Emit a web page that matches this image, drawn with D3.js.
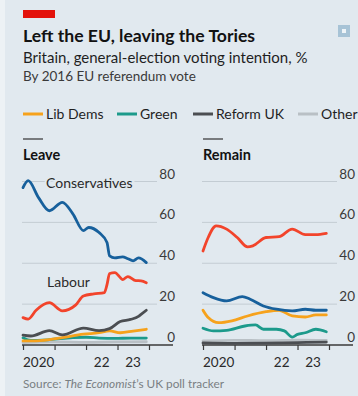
<!DOCTYPE html>
<html>
<head>
<meta charset="utf-8">
<script src="https://cdn.jsdelivr.net/npm/d3@7"></script>
<style>
  html, body { margin: 0; padding: 0; background: #e1e9ef; }
  svg { display: block; font-family: Lato, "Noto Sans", sans-serif; }
</style>
</head>
<body>
<div id="root"></div>
<script>
// values, [month, %]
const leaveConservatives = [["2020-01", 77], ["2020-03", 80.4], ["2020-07", 72], ["2020-11", 65.7], ["2021-04", 69.8], ["2021-08", 64.2], ["2021-12", 56], ["2022-02", 57.5], ["2022-06", 55], ["2022-09", 50.1], ["2022-10", 43.6], ["2022-12", 42.6], ["2023-03", 43.1], ["2023-05", 42.2], ["2023-07", 41.2], ["2023-09", 42.6], ["2023-12", 40.3]];
const leaveLabour = [["2020-01", 13.4], ["2020-03", 12.7], ["2020-06", 17], ["2020-11", 20.7], ["2021-04", 16.7], ["2021-09", 19.5], ["2021-12", 24], ["2022-04", 25], ["2022-08", 25.6], ["2022-09", 29.5], ["2022-10", 35], ["2022-12", 35.4], ["2023-02", 33], ["2023-03", 32], ["2023-05", 33.5], ["2023-08", 31.5], ["2023-10", 31.4], ["2023-12", 30.5]];
const leaveLibDems = [["2020-01", 2], ["2020-06", 2], ["2021-04", 3.6], ["2021-12", 5.3], ["2022-06", 6], ["2022-10", 6.9], ["2023-02", 6], ["2023-07", 6.8], ["2023-12", 7.7]];
const leaveGreen = [["2020-01", 3.5], ["2020-04", 2.2], ["2020-11", 2.6], ["2021-08", 3.6], ["2022-01", 3.8], ["2022-06", 3.4], ["2022-12", 3.2], ["2023-06", 3.4], ["2023-12", 3.4]];
const leaveReform = [["2020-01", 4.8], ["2020-04", 4.4], ["2020-11", 7], ["2021-04", 5], ["2021-12", 8.3], ["2022-06", 7], ["2022-10", 8], ["2023-02", 11.5], ["2023-06", 12.5], ["2023-09", 14], ["2023-10", 15], ["2023-12", 17]];
const leaveOther = [["2020-01", 1.2], ["2021-01", 1.5], ["2022-01", 1.3], ["2023-01", 1.5], ["2023-12", 1.6]];

const remainConservatives = [["2020-01", 25.6], ["2020-05", 23.2], ["2020-10", 21.6], ["2021-04", 23.7], ["2021-07", 22.4], ["2021-12", 19.1], ["2022-05", 17.5], ["2022-11", 16.7], ["2023-04", 17.5], ["2023-08", 17], ["2023-12", 17]];
const remainLabour = [["2020-01", 46], ["2020-03", 52.6], ["2020-06", 58.3], ["2020-10", 56.7], ["2021-02", 52.6], ["2021-06", 48], ["2021-08", 48.5], ["2022-01", 52.6], ["2022-06", 53], ["2022-11", 56.7], ["2023-04", 54], ["2023-08", 54], ["2023-12", 54.6]];
const remainLibDems = [["2020-01", 17], ["2020-03", 13.4], ["2020-07", 10.9], ["2020-12", 11.8], ["2021-06", 14.2], ["2022-01", 16.3], ["2022-06", 17], ["2022-11", 14.2], ["2023-04", 13.7], ["2023-08", 14.7], ["2023-12", 14.7]];
const remainGreen = [["2020-01", 8.2], ["2020-05", 6.9], ["2020-10", 7.2], ["2021-05", 9.3], ["2021-09", 9.8], ["2021-12", 7.7], ["2022-05", 7.7], ["2022-08", 6.9], ["2022-11", 3.9], ["2023-01", 5.2], ["2023-04", 6], ["2023-08", 7.7], ["2023-12", 6.5]];
const remainReform = [["2020-01", 1], ["2021-01", 0.8], ["2022-01", 0.9], ["2023-01", 1.2], ["2023-12", 1.4]];
const remainOther = [["2020-01", 2], ["2021-01", 2.3], ["2022-01", 2.1], ["2023-01", 2.4], ["2023-12", 2.2]];

const legendNames = ["Lib Dems", "Green", "Reform UK", "Other"];
const yTicks = [0, 20, 40, 60, 80];
const yearLabels = [["2020", "2020-07"], ["22", "2022-07"], ["23", "2023-07"]];

const colors = {
  con: "#17609c",
  lab: "#f2442b",
  ld: "#f6a21c",
  green: "#1c9a8b",
  reform: "#4b4e52",
  other: "#b9c0c5",
};
const legendColors = [colors.ld, colors.green, colors.reform, colors.other];

const width = 358;
const height = 396;
const bg = "#e1e9ef";
const parse = d3.timeParse("%Y-%m");

const svg = d3.select("#root")
  .append("svg")
  .attr("width", width)
  .attr("height", height)
  .attr("viewBox", `0 0 ${width} ${height}`);

svg.append("rect").attr("width", width).attr("height", height).attr("fill", bg);
svg.append("rect").attr("width", 5).attr("height", height).attr("fill", "#edf2f5");

// header
svg.append("rect").attr("x", 23).attr("y", 10).attr("width", 32).attr("height", 8).attr("fill", "#e3120b");
svg.append("rect").attr("x", 338).attr("y", 25).attr("width", 12).attr("height", 12).attr("fill", "#a7c3d6");
svg.append("rect").attr("x", 342).attr("y", 29).attr("width", 4).attr("height", 4).attr("fill", "#eef4f8");

svg.append("text").attr("x", 23).attr("y", 42)
  .attr("font-size", 17.6).attr("font-weight", 700).attr("fill", "#121212")
  .text("Left the EU, leaving the Tories");
svg.append("text").attr("x", 23).attr("y", 63)
  .attr("font-size", 15).attr("fill", "#1f1f1f")
  .text("Britain, general-election voting intention, %");
svg.append("text").attr("x", 23).attr("y", 81)
  .attr("font-size", 13.5).attr("fill", "#3a3a3a")
  .text("By 2016 EU referendum vote");

// legend
const legendX = [23, 117, 193, 298];
const legend = svg.append("g").selectAll("g")
  .data(legendNames)
  .join("g")
  .attr("transform", (d, i) => `translate(${legendX[i]}, 114)`);
legend.append("line").attr("x1", 0).attr("x2", 20)
  .attr("stroke", (d, i) => legendColors[i]).attr("stroke-width", 3);
legend.append("text").attr("x", 23).attr("y", 5)
  .attr("font-size", 14).attr("fill", "#1f1f1f").text((d) => d);

const yScale = d3.scaleLinear().domain([0, 80]).range([345, 181.5]);

function drawPanel(title, x0, series, labels) {
  const x1 = x0 + 126;
  const xScale = d3.scaleTime()
    .domain([new Date(2020, 0, 1), new Date(2024, 0, 1)])
    .range([x0, x1]);
  const g = svg.append("g");

  g.append("line").attr("x1", x0).attr("x2", x0 + 20).attr("y1", 139).attr("y2", 139)
    .attr("stroke", "#333").attr("stroke-width", 1.2);
  g.append("text").attr("x", x0).attr("y", 160)
    .attr("font-size", 14.5).attr("font-weight", 700).attr("fill", "#121212").text(title);

  // gridlines and y labels
  g.selectAll(".grid")
    .data(yTicks.filter((d) => d > 0))
    .join("line")
    .attr("x1", x0 - 1).attr("x2", x1 + 8)
    .attr("y1", (d) => yScale(d)).attr("y2", (d) => yScale(d))
    .attr("stroke", "#c3ccd3").attr("stroke-width", 1);
  g.selectAll(".ylab")
    .data(yTicks)
    .join("text")
    .attr("x", x1 + 26).attr("y", (d) => yScale(d) - 3)
    .attr("text-anchor", "end").attr("font-size", 13.5).attr("fill", "#3a3a3a")
    .text((d) => d);

  // series lines
  const line = d3.line()
    .x((d) => xScale(parse(d[0])))
    .y((d) => yScale(d[1]))
    .curve(d3.curveMonotoneX);

  // labels with halo go under the lines
  labels.forEach((l) => {
    g.append("text").attr("x", l.x).attr("y", l.y)
      .attr("font-size", 14).attr("fill", "#2a2a2a")
      .attr("stroke", bg).attr("stroke-width", 4).attr("paint-order", "stroke")
      .text(l.text);
  });

  // baseline
  g.append("line").attr("x1", x0 - 1).attr("x2", x1 + 24)
    .attr("y1", yScale(0)).attr("y2", yScale(0))
    .attr("stroke", "#3a3a3a").attr("stroke-width", 1.3);

  g.selectAll(".series")
    .data(series)
    .join("path")
    .attr("d", (d) => line(d.values))
    .attr("fill", "none")
    .attr("stroke", (d) => d.color)
    .attr("stroke-width", 2.8)
    .attr("stroke-linejoin", "round")
    .attr("stroke-linecap", "round");

  // x axis ticks at year boundaries
  const bottomAxis = d3.axisBottom(xScale)
    .ticks(d3.timeYear.every(1))
    .tickSize(5)
    .tickFormat("");
  const ax = g.append("g")
    .attr("transform", `translate(0, ${yScale(0)})`)
    .call(bottomAxis);
  ax.select(".domain").remove();
  ax.selectAll(".tick line").attr("stroke", "#3a3a3a").attr("stroke-width", 1.2);

  g.selectAll(".xlab")
    .data(yearLabels)
    .join("text")
    .attr("x", (d) => xScale(parse(d[1])))
    .attr("y", 367)
    .attr("text-anchor", "middle")
    .attr("font-size", 13.5).attr("fill", "#2a2a2a")
    .text((d) => d[0]);
}

drawPanel("Leave", 23, [
  { values: leaveOther, color: colors.other },
  { values: leaveGreen, color: colors.green },
  { values: leaveLibDems, color: colors.ld },
  { values: leaveReform, color: colors.reform },
  { values: leaveLabour, color: colors.lab },
  { values: leaveConservatives, color: colors.con },
], [
  { text: "Conservatives", x: 46, y: 188 },
  { text: "Labour", x: 47, y: 287 },
]);

drawPanel("Remain", 203, [
  { values: remainOther, color: colors.other },
  { values: remainReform, color: colors.reform },
  { values: remainGreen, color: colors.green },
  { values: remainLibDems, color: colors.ld },
  { values: remainConservatives, color: colors.con },
  { values: remainLabour, color: colors.lab },
], []);

// source
const src = svg.append("text").attr("x", 23).attr("y", 388)
  .attr("font-size", 11.8).attr("fill", "#7a7f83");
src.append("tspan").text("Source: ");
src.append("tspan").attr("font-style", "italic").text("The Economist");
src.append("tspan").text("’s UK poll tracker");
</script>
</body>
</html>
